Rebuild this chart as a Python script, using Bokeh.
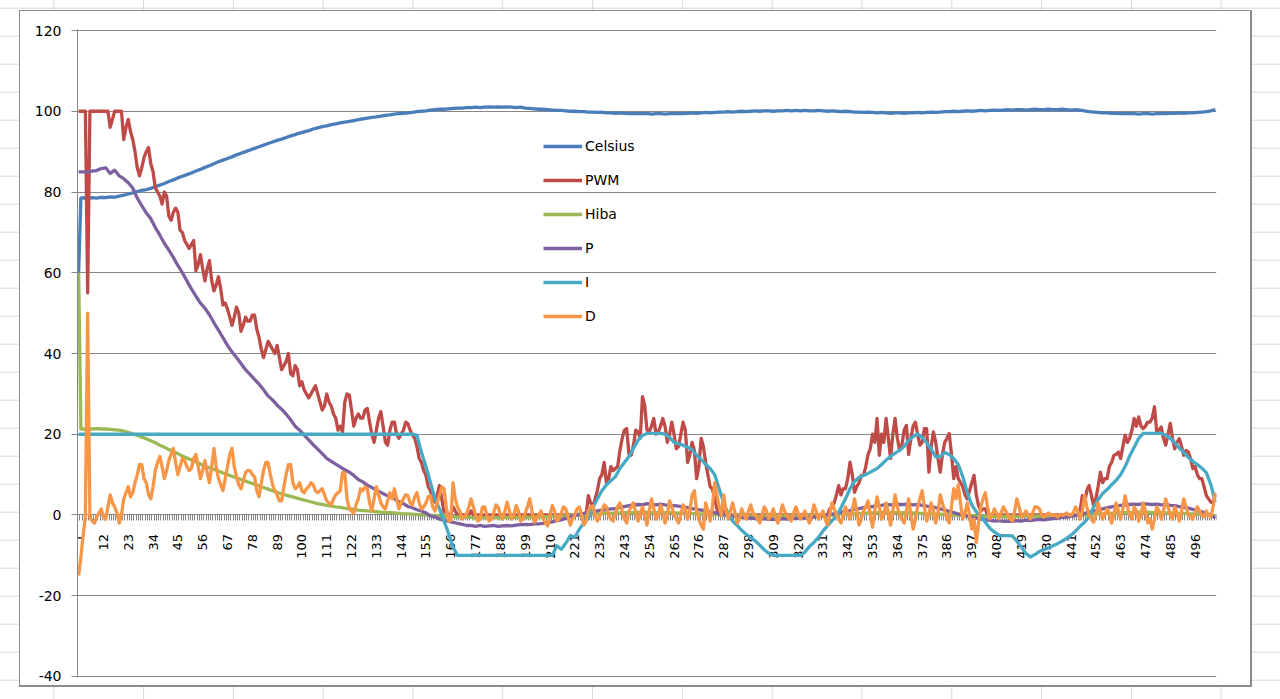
import math
from bokeh.plotting import figure
from bokeh.models import FixedTicker, Range1d, Legend, LegendItem
from bokeh.embed import file_html
from bokeh.resources import INLINE

# ---------------- data ----------------
# every category 1..505 (used by the noisy series)
t_full = list(range(1, 506))
# sampled categories (used by the smooth series)
t = [1, 2, 3, 4, 5, 6] + list(range(7, 506, 2))

celsius = [
    60.0, 78.5, 78.6, 78.4, 78.7, 78.5,
    78.6, 78.5, 78.7, 78.6, 78.8, 78.7, 79.0, 79.2, 79.5, 79.8,
    80.1, 80.4, 80.6, 80.9, 81.3, 81.7, 82.1, 82.6, 83.0, 83.5,
    83.9, 84.3, 84.7, 85.2, 85.6, 86.1, 86.5, 87.0, 87.5, 87.9,
    88.3, 88.7, 89.2, 89.6, 90.0, 90.4, 90.8, 91.2, 91.6, 92.0,
    92.4, 92.8, 93.1, 93.5, 93.9, 94.2, 94.6, 94.9, 95.2, 95.6,
    95.9, 96.2, 96.4, 96.7, 96.9, 97.1, 97.3, 97.5, 97.7, 97.9,
    98.1, 98.3, 98.5, 98.6, 98.8, 99.0, 99.1, 99.3, 99.4, 99.5,
    99.6, 99.7, 99.9, 100.0, 100.1, 100.3, 100.4, 100.5, 100.5, 100.6,
    100.7, 100.8, 100.8, 100.9, 100.9, 101.0, 100.9, 101.0, 101.1, 101.0,
    101.1, 101.0, 101.1, 101.0, 100.9, 101.0, 100.8, 100.7, 100.6, 100.5,
    100.5, 100.4, 100.3, 100.2, 100.2, 100.1, 100.0, 100.0, 99.9, 99.9,
    99.8, 99.8, 99.7, 99.8, 99.6, 99.6, 99.5, 99.6, 99.5, 99.4,
    99.5, 99.4, 99.4, 99.5, 99.3, 99.4, 99.4, 99.3, 99.4, 99.4,
    99.5, 99.4, 99.5, 99.6, 99.5, 99.6, 99.7, 99.6, 99.7, 99.8,
    99.8, 99.9, 99.8, 99.9, 100.0, 99.9, 100.0, 100.1, 100.0, 100.1,
    100.1, 100.0, 100.1, 100.1, 100.2, 100.1, 100.2, 100.1, 100.2, 100.1,
    100.1, 100.2, 100.1, 100.0, 100.1, 100.0, 99.9, 100.0, 99.9, 99.8,
    99.8, 99.7, 99.8, 99.7, 99.6, 99.7, 99.6, 99.5, 99.6, 99.6,
    99.5, 99.6, 99.6, 99.7, 99.6, 99.7, 99.8, 99.7, 99.8, 99.9,
    99.9, 100.0, 99.9, 100.0, 100.1, 100.0, 100.1, 100.2, 100.1, 100.2,
    100.3, 100.2, 100.3, 100.4, 100.3, 100.4, 100.4, 100.3, 100.4, 100.5,
    100.4, 100.4, 100.5, 100.4, 100.4, 100.5, 100.4, 100.3, 100.4, 100.3,
    100.1, 99.9, 99.8, 99.7, 99.6, 99.6, 99.5, 99.5, 99.4, 99.5,
    99.4, 99.4, 99.3, 99.4, 99.4, 99.3, 99.4, 99.5, 99.4, 99.5,
    99.5, 99.6, 99.5, 99.6, 99.6, 99.7, 99.8, 99.9, 100.1, 100.4,
]

pwm = [
    100, 100, 100, 100, 55, 100,
    100, 100, 100, 100, 100, 100, 100, 100, 96, 98,
    100, 100, 100, 100, 93, 96, 98, 95, 93, 90,
    86, 84, 86, 88.6, 90, 91, 87, 85, 81, 80,
    79, 77, 80, 79, 74, 73, 75, 76, 75, 70.5,
    70, 68, 67, 66, 67, 68, 60.5, 62, 64.5, 61,
    58, 61, 63, 58, 55.5, 57, 59, 56, 52, 52.5,
    51, 49, 47, 49, 51.5, 50, 45.5, 47, 49, 48,
    48, 49.5, 49.5, 46, 44, 41, 39, 41, 43, 42,
    41, 40, 42, 39, 36, 37, 38, 40, 35, 34.5,
    37, 36, 32, 33, 31, 30, 29, 30, 31, 32,
    30, 28, 26, 27, 30, 28, 27, 25, 24, 21,
    22, 20.5, 28, 30, 29.7, 26, 22, 24, 25, 24,
    24, 26, 26.4, 23, 20, 18, 21, 24, 25.6, 22,
    18, 17.3, 21, 23, 23, 20, 19, 20, 21, 23,
    22.6, 21, 19.8, 19, 17, 14, 13, 11, 9.8, 7,
    6, 4, 3.2, 5, 7.3, 4, 0.7, 1, 0, 0,
    2, 1, 0, 0, 0, 0, 0, 0, 1, 0,
    0, 0, 0, 0, 0, 0, 0, 0, 0, 0,
    0, 0, 0, 0, 0, 0, 0, 0, 0, 0,
    0, 0, 0, 0, 0, 0, 0, 0, 0, 0,
    0, 0, 0, 0, 0, 0, 0, 0, 0, 0,
    0, 0, 0, 0, 0, 0, 0, 0, 0, 0,
    4.8, 3, 2, 4, 6, 9, 10, 13, 8, 9,
    12, 11, 11.5, 12, 16, 19, 21, 21.4, 15, 14.8,
    17.3, 21, 20.6, 19, 29.3, 27, 21, 20.6, 22, 23.9,
    20, 20.6, 22, 23.9, 22, 18, 20, 23, 20, 16.4,
    17, 20, 23, 21, 13, 15, 18, 16, 9, 12,
    19, 17, 13, 10, 7, 6.5, 4, 1.5, 0, 0,
    1, 0, 0, 0, 0, 0, 0, 0, 0, 0,
    0, 0, 0, 0, 0, 0, 0, 0, 0, 0,
    0, 0, 0, 0, 0, 0, 0, 0, 0, 0,
    0, 0, 0, 0, 0, 0, 0, 0, 0, 0,
    0, 0, 0, 0, 0, 0, 0, 1.5, 2, 3,
    5, 7.3, 5, 6.5, 6.5, 9, 13.1, 10, 5.6, 7,
    8, 9.8, 9.8, 12, 15, 16.4, 20, 18, 23.9, 14.8,
    20, 18, 23.9, 19, 14, 20, 23.9, 19, 16, 17.3,
    21, 22.2, 15, 19, 22, 23, 20, 17.3, 18, 21.4,
    21.4, 10.6, 17, 20.6, 18, 14, 10.6, 15, 18, 19,
    20.2, 15, 9, 12, 9, 8.1, 7, 5, 4, 6,
    8, 9.8, 5, 2.3, 1, 1.5, 1.5, 0, 0, 0,
    0, 0, 0, 0, 0, 0, 0, 0, 0, 0,
    0, 0, 0, 0, 0, 0, 0, 0, 0, 0,
    0, 0, 0, 0, 0, 0, 0, 0, 0, 0,
    0, 0, 0, 0, 0, 0, 0, 0, 1, 4.8,
    3, 6, 7.3, 5, 2.3, 4, 7, 10.6, 8, 9,
    9, 12, 13, 14.8, 15, 15.6, 14, 17, 19.8, 18,
    19, 21, 23.9, 22, 24.3, 22, 21.4, 22, 23, 23,
    24, 26.8, 20.6, 21, 21.8, 19, 17.3, 20, 22.7, 19,
    16.4, 18, 18.9, 17, 14.8, 16, 15.6, 14, 11.5, 12,
    10, 9, 9, 7, 4.8, 4, 3.2, 3, 5,
]

hiba = [
    60.0, 21.3, 21.3, 21.2, 21.3, 21.3,
    21.3, 21.4, 21.3, 21.3, 21.2, 21.1, 21.0, 20.8, 20.5, 20.1,
    19.7, 19.3, 18.9, 18.4, 17.9, 17.3, 16.8, 16.2, 15.7, 15.2,
    14.6, 14.1, 13.6, 13.1, 12.6, 12.1, 11.7, 11.3, 10.9, 10.4,
    10.0, 9.6, 9.2, 8.8, 8.4, 8.0, 7.6, 7.2, 6.8, 6.4,
    6.0, 5.6, 5.2, 4.9, 4.6, 4.3, 4.0, 3.7, 3.4, 3.1,
    2.8, 2.6, 2.4, 2.2, 2.0, 1.9, 1.7, 1.6, 1.4, 1.2,
    1.1, 1.0, 0.9, 0.8, 0.7, 0.6, 0.6, 0.5, 0.4, 0.3,
    0.3, 0.2, 0.1, 0.1, 0.0, -0.1, -0.1, -0.2, -0.3, -0.3,
    -0.4, -0.5, -0.5, -0.6, -0.6, -0.7, -0.6, -0.7, -0.7, -0.6,
    -0.7, -0.7, -0.6, -0.7, -0.6, -0.6, -0.5, -0.6, -0.5, -0.5,
    -0.5, -0.4, -0.4, -0.3, -0.3, -0.2, -0.1, 0.0, 0.0, 0.1,
    0.2, 0.2, 0.3, 0.3, 0.4, 0.4, 0.5, 0.5, 0.6, 0.6,
    0.6, 0.7, 0.6, 0.7, 0.6, 0.6, 0.7, 0.6, 0.6, 0.5,
    0.5, 0.5, 0.4, 0.4, 0.3, 0.3, 0.2, 0.2, 0.1, 0.1,
    0.0, 0.0, -0.1, -0.1, -0.1, -0.2, -0.2, -0.2, -0.3, -0.2,
    -0.3, -0.3, -0.2, -0.3, -0.2, -0.2, -0.3, -0.2, -0.2, -0.1,
    -0.1, -0.1, 0.0, 0.0, 0.0, 0.1, 0.2, 0.2, 0.3, 0.3,
    0.4, 0.4, 0.5, 0.5, 0.6, 0.6, 0.5, 0.6, 0.6, 0.5,
    0.6, 0.5, 0.5, 0.4, 0.4, 0.3, 0.3, 0.2, 0.2, 0.1,
    0.1, 0.0, 0.0, -0.1, -0.1, -0.2, -0.2, -0.3, -0.3, -0.3,
    -0.4, -0.3, -0.4, -0.4, -0.3, -0.4, -0.4, -0.3, -0.3, -0.3,
    -0.3, -0.4, -0.3, -0.4, -0.3, -0.3, -0.2, -0.2, -0.1, 0.0,
    0.0, 0.1, 0.2, 0.3, 0.3, 0.4, 0.4, 0.5, 0.5, 0.6,
    0.6, 0.6, 0.7, 0.6, 0.7, 0.6, 0.6, 0.6, 0.5, 0.5,
    0.5, 0.4, 0.4, 0.3, 0.3, 0.2, 0.1, 0.1, 0.0, -0.2,
]

p_term = [
    85.0, 85.0, 85.0, 85.0, 85.0, 85.0,
    85.2, 85.3, 85.8, 86.0, 84.6, 85.4, 84.0, 83.3, 82.3, 81.0,
    78.5, 76.6, 74.8, 73.4, 71.2, 69.3, 67.3, 65.6, 63.8, 61.8,
    60.0, 58.0, 56.0, 54.2, 52.5, 51.2, 49.6, 47.6, 45.8, 43.9,
    42.0, 40.4, 39.0, 37.5, 36.0, 34.8, 33.6, 32.4, 31.0, 29.5,
    28.5, 27.2, 26.2, 25.0, 23.6, 22.0, 21.0, 19.8, 18.6, 17.4,
    16.3, 15.2, 14.0, 13.3, 12.6, 11.9, 11.2, 10.6, 9.8, 8.8,
    8.2, 7.4, 6.8, 6.2, 5.6, 5.0, 4.5, 4.0, 3.3, 2.8,
    2.1, 1.8, 1.3, 1.0, 0.5, -0.2, -0.5, -1.0, -1.3, -1.6,
    -1.8, -2.1, -2.3, -2.6, -2.6, -2.8, -2.6, -2.8, -2.7, -2.6,
    -2.8, -2.7, -2.6, -2.7, -2.5, -2.4, -2.3, -2.4, -2.2, -2.2,
    -2.1, -1.8, -1.7, -1.4, -1.2, -0.8, -0.4, -0.1, 0.2, 0.4,
    0.7, 0.8, 1.0, 1.2, 1.3, 1.5, 1.6, 1.9, 2.1, 2.3,
    2.5, 2.6, 2.5, 2.8, 2.6, 2.5, 2.7, 2.5, 2.4, 2.3,
    2.2, 2.0, 1.8, 1.6, 1.4, 1.2, 1.0, 0.8, 0.6, 0.3,
    0.1, -0.1, -0.3, -0.4, -0.6, -0.8, -0.7, -0.9, -1.0, -0.9,
    -1.1, -1.0, -1.1, -0.9, -1.0, -0.8, -0.9, -0.7, -0.8, -0.6,
    -0.5, -0.4, -0.2, 0.0, 0.2, 0.4, 0.7, 0.9, 1.1, 1.4,
    1.6, 1.8, 2.0, 2.1, 2.3, 2.4, 2.6, 2.5, 2.7, 2.6,
    2.6, 2.7, 2.5, 2.6, 2.4, 2.2, 2.0, 1.8, 1.5, 1.2,
    0.9, 0.6, 0.3, 0.0, -0.3, -0.5, -0.8, -1.0, -1.2, -1.3,
    -1.5, -1.4, -1.6, -1.5, -1.6, -1.4, -1.5, -1.3, -1.4, -1.2,
    -1.1, -1.2, -1.0, -0.9, -0.8, -0.6, -0.5, -0.3, -0.1, 0.1,
    0.4, 0.7, 1.0, 1.2, 1.5, 1.8, 2.0, 2.2, 2.4, 2.5,
    2.6, 2.7, 2.6, 2.8, 2.7, 2.6, 2.7, 2.5, 2.6, 2.4,
    2.3, 2.1, 1.9, 1.7, 1.4, 1.1, 0.8, 0.4, 0.0, -0.8,
]

i_term = [
    20, 20, 20, 20, 20, 20,
    20, 20, 20, 20, 20, 20, 20, 20, 20, 20,
    20, 20, 20, 20, 20, 20, 20, 20, 20, 20,
    20, 20, 20, 20, 20, 20, 20, 20, 20, 20,
    20, 20, 20, 20, 20, 20, 20, 20, 20, 20,
    20, 20, 20, 20, 20, 20, 20, 20, 20, 20,
    20, 20, 20, 20, 20, 20, 20, 20, 20, 20,
    20, 20, 20, 20, 20, 20, 20, 20, 20, 20,
    20, 20, 19.8, 15.5, 12, 8, 4, 1.5, -1.5, -4.5,
    -8, -10, -10, -10, -10, -10, -10, -10, -10, -10,
    -10, -10, -10, -10, -10, -10, -10, -10, -10, -10,
    -10, -10, -10, -7.6, -8.5, -7, -5.1, -5.5, -3.5, -2,
    -0.8, 1.8, 4, 6, 7.5, 8.5, 9.5, 11.5, 13, 14.5,
    16.5, 18.5, 19.7, 20.2, 20.2, 20.2, 20.2, 20, 19.2, 18,
    17.6, 17.3, 16.8, 16.2, 14.8, 13.8, 12.5, 11.5, 10, 6.5,
    3, 0.3, -1.5, -2.6, -3.8, -4.8, -5.6, -6.4, -7.5, -8.6,
    -9.5, -10, -10, -10, -10, -10, -10, -10, -9.2, -7.8,
    -6.8, -5.5, -4, -2.7, -1.4, -0.3, 1.8, 4, 6.5, 8.3,
    9.3, 9.8, 10.3, 10.9, 11.5, 12.5, 13.6, 14.5, 15.3, 16.0,
    17, 18.5, 19.4, 20.1, 19.2, 17.9, 16.3, 14.4, 14.5, 15.5,
    15, 14, 12.5, 9.5, 5.5, 2.5, 0.8, -0.4, -1.8, -3.3,
    -4.2, -5, -5.1, -5.1, -5.2, -6.5, -8, -9.5, -10.4, -9.8,
    -9, -8.6, -8.1, -7.6, -7.1, -6.5, -5.8, -5, -4, -2.8,
    -1.8, -0.5, 2, 3.8, 5.3, 6.3, 7.5, 8.6, 10, 12,
    14.6, 16.8, 19, 20.2, 20.2, 20.2, 20.2, 20.2, 19.8, 19,
    17.9, 16.6, 15.5, 14.3, 13.3, 12.5, 11.6, 10.5, 7.5, 3.2,
]

d_term = [
    -15, -10.5, -5, -0.5, 50, -0.5,
    -1.5, -2, -0.5, 0.5, 1.5, -0.5, -1, 2, 5, 3,
    2, 0.5, -2, 0, 4, 5.5, 7, 4.5, 5.5, 8,
    10, 12.5, 12.5, 9, 8, 5, 4, 7, 11, 13,
    14.5, 12, 9, 11, 13.5, 15, 16.5, 13, 10, 12,
    14, 13.5, 12, 11, 11.5, 14, 15, 12, 9, 11,
    13.5, 10.5, 8, 12, 16.5, 12, 9, 7.5, 6, 9,
    12, 15, 16.5, 12, 9.5, 7.5, 6.5, 8.5, 10.5, 11,
    11, 10, 9.5, 6, 4.5, 8, 11, 13, 13, 10,
    7.5, 6, 5, 3.5, 3.5, 7, 10, 12.5, 12.5, 8,
    6.5, 7, 8, 6, 5.5, 6.5, 7, 8, 7.5, 6,
    5.5, 6, 6.5, 5, 3.5, 3, 2.5, 4, 5, 5.5,
    6, 10.5, 10.5, 4, 1.5, 1, 0.5, 2.5, 4, 6.5,
    6, 7, 6.5, 3, 1, 4, 7, 5, 3, 2,
    1.5, 3.5, 5.5, 4, 6.5, 4, 1.5, 3, 4, 5,
    4.8, 3, 2.5, 4.5, 5.5, 3, 1.5, 2, 3, 4.5,
    4.8, 2, 1, 3, 5, 7, 6.5, 2, -1.5, -1.4,
    8, 4, 2, 1, -1, -0.5, 0.2, 2, 4, 2,
    0, -1.5, -1, 1.9, 2, 0, -1.5, -1, 0.5, 2.5,
    2, 0, -1, 1, 3.2, 1, -1, 0, 2.3, 1,
    -1.5, -1, 0.5, 2, 4, 1, -1.8, -1, 0, 1,
    -1, -2, -2.7, 0, 2.3, 1, -1.5, -1, 0.5, 2,
    1.5, -0.5, -2.5, -1, 0, 1.5, 2, 0, -2.5, -1.5,
    1, 2, 2.3, 0, -1.5, -0.5, 1, 2.5, 2, 0,
    -1, -1.5, 0.5, 2, 3, 1, -1, -2, 1, 2,
    3, 0.5, -1.5, 0, 2, 0, -2.5, 1, 4, 1.5,
    -1, 0, 2.5, 0.5, -2, 0, 3.5, 2, 0, -1,
    -2, 0, 2.5, 1.5, -1, 1, 5, 6, 1, -1,
    -2.5, -3.5, 3, 1, -1.5, 2, 8, 5, 2, 0,
    5, 1, -1, 1, 3, 0.5, -2, -1, 1.5, 0,
    -1, 1, 2.5, 0.5, 0, -1, -2, 0, 2, 1,
    -1, 0, 1.5, -0.5, -2, 0, 2.5, 1, 0, -1,
    -1.5, 0.5, 2, 0.5, -1, 0, 1, -0.5, -2, 0,
    2.5, 1, -1, 0, 1, -1, -2.5, 0, 3, 1.5,
    0, -1, -2, 0, 2, 0.5, -1, 1, 4, 1,
    -2.5, -1, 1, 2, 3.5, 0, -3, 1, 4.5, 2,
    -1, 0, 3, 0.5, -2.5, 1, 5, 2, 0, -1,
    -2, 1, 4, 0, -3.5, -1, 2, 4, 6, 2,
    -1.5, 0, 3, 1, -2, 0.5, 5, 3, 1, -1,
    -2, 2, 6.5, 4, 7.5, 3, -1, 0.5, 3, 0,
    -3.5, -1, -6.8, -2, 2, 4, 5.5, 2, -1, 0,
    1.5, 0.5, -1, 0.5, 2, 1, 0, -1, -1.5, 1,
    4, 2, -0.5, 0, 1, 0, -1, 0.5, 2, 2,
    1.5, 0, -0.5, 0, 0.5, 0, 0, 0, -0.5, 0,
    0, 0, 0.5, 0, 0, 0.5, 2, 1, -1, 1,
    4.8, 2, 0, -1, -1.8, 0, 3, 1, -1, 0,
    1.5, 0.5, -2, 0, 3, 1, -1, 1.5, 4.8, 2,
    0, -1, 2, 1, -1.5, 0, 3, 1, -2, -1,
    -3.5, -1, 2, 1, -1, 1, 4, 2, 0, -1,
    2, 0.5, -1.5, 1, 4, 2, 0, -0.5, -1, 0.5,
    2, 1, 0, -0.5, 1, 0, -0.5, 2, 5.6,
]

series_names = ["Celsius", "PWM", "Hiba", "P", "I", "D"]
series_values = [celsius, pwm, hiba, p_term, i_term, d_term]
series_x = [t, t_full, t, t, t, t_full]
series_colors = ["#4A7EBB", "#BE4B48", "#98B954", "#7D60A0", "#46AAC5", "#F79646"]

x_tick_labels = [1, 12, 23, 34, 45, 56, 67, 78, 89, 100, 111, 122, 133, 144, 155,
                 166, 177, 188, 199, 210, 221, 232, 243, 254, 265, 276, 287, 298,
                 309, 320, 331, 342, 353, 364, 375, 386, 397, 408, 419, 430, 441,
                 452, 463, 474, 485, 496]
y_ticks = [-40, -20, 0, 20, 40, 60, 80, 100, 120]
y_tick_text = ["-40", "-20", "0", "20", "40", "60", "80", "100", "120"]
n_categories = 505

# ---------------- figure ----------------
FONT = "DejaVu Sans"
GRAY = "#868686"

p = figure(width=1280, height=699, output_backend="svg", toolbar_location=None,
           x_range=Range1d(0.5, n_categories + 0.5), y_range=Range1d(-40.25, 120.25),
           min_border_left=77, min_border_right=64, min_border_top=29, min_border_bottom=22,
           title=None)

p.border_fill_color = None
p.background_fill_color = "white"
p.outline_line_color = None

# spreadsheet-like page background + chart area box
p.styles = {
    "background-color": "#ffffff",
    "background-image": ("linear-gradient(#ffffff,#ffffff), "
                         "linear-gradient(#8c8c8c,#8c8c8c), "
                         "linear-gradient(to right, #d6d9de 0px, #d6d9de 1px, transparent 1px), "
                         "linear-gradient(to bottom, #d6d9de 0px, #d6d9de 1px, transparent 1px)"),
    "background-size": "1230px 674px, 1233px 677px, 89.8px 100%, 100% 28px",
    "background-position": "20px 11px, 19px 10px, 53.3px 0px, 0px 7.7px",
    "background-repeat": "no-repeat, no-repeat, repeat, repeat",
}

# x axis (category axis crossing at y = 0)
xa = p.xaxis[0]
xa.ticker = FixedTicker(ticks=x_tick_labels,
                        minor_ticks=[k + 0.5 for k in range(0, n_categories + 1)])
xa.fixed_location = 0
xa.major_label_orientation = math.pi / 2
xa.major_tick_out = 0
xa.major_tick_in = 0
xa.minor_tick_out = 6
xa.minor_tick_in = 0
xa.minor_tick_line_color = GRAY
xa.axis_line_color = GRAY
xa.major_label_standoff = 13
xa.major_label_text_font = FONT
xa.major_label_text_font_size = "13px"
xa.major_label_text_color = "black"
xa.level = "underlay"

# y axis
ya = p.yaxis[0]
ya.ticker = FixedTicker(ticks=y_ticks)
ya.major_label_overrides = {v: s for v, s in zip(y_ticks, y_tick_text)}
ya.major_tick_out = 6
ya.major_tick_in = 0
ya.minor_tick_out = 0
ya.minor_tick_in = 0
ya.major_tick_line_color = GRAY
ya.axis_line_color = GRAY
ya.major_label_standoff = 10
ya.major_label_text_font = FONT
ya.major_label_text_font_size = "14px"
ya.major_label_text_color = "black"

p.xgrid.visible = False
p.ygrid.ticker = FixedTicker(ticks=y_ticks)
p.ygrid.grid_line_color = GRAY
p.ygrid.grid_line_width = 1

items = []
for name, xs, vals, col in zip(series_names, series_x, series_values, series_colors):
    r = p.line(x=xs[:len(vals)], y=vals, line_width=3.3, line_color=col, line_join="round")
    items.append(LegendItem(label=name, renderers=[r]))

legend = Legend(items=items, location=(466, 351), glyph_width=39, glyph_height=20,
                label_height=20, label_standoff=3, spacing=14, padding=0, margin=0,
                border_line_color=None, background_fill_alpha=0,
                label_text_font=FONT, label_text_font_size="14px",
                label_text_color="black")
p.add_layout(legend, "center")

open("out.html", "w").write(file_html(p, INLINE))
